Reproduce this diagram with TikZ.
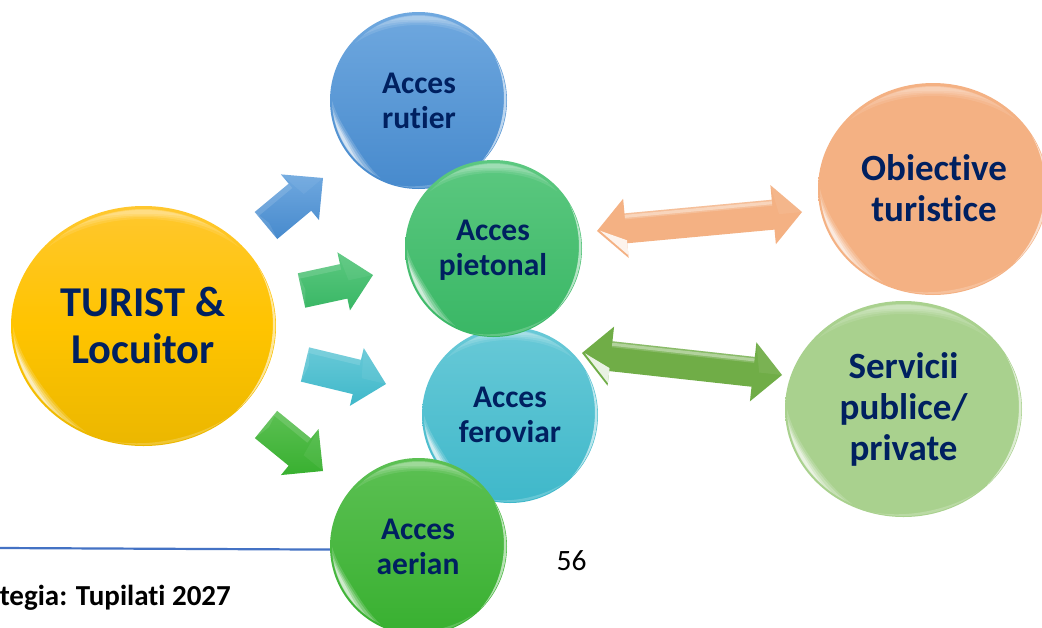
\documentclass[tikz,border=0pt]{standalone}
\usepackage{fontspec}
\setmainfont{Carlito}[Ligatures=NoCommon,RawFeature={-liga;-clig;-dlig}]
\usetikzlibrary{calc,shapes.geometric,backgrounds}
\definecolor{navy}{HTML}{002060}
\definecolor{cA}{HTML}{6FA8DF}\definecolor{cB}{HTML}{478ACD}
\definecolor{cC}{HTML}{5CC880}\definecolor{cD}{HTML}{39B765}
\definecolor{cE}{HTML}{68C9D7}\definecolor{cF}{HTML}{3FB8CA}
\definecolor{cG}{HTML}{5CC053}\definecolor{cH}{HTML}{38B030}
\definecolor{cI}{HTML}{FFC72E}\definecolor{cJ}{HTML}{EBB700}\definecolor{cK}{HTML}{FFC400}
\definecolor{peach}{HTML}{F4B183}\definecolor{leaf}{HTML}{A9D18E}
\definecolor{dleaf}{HTML}{70AD47}\definecolor{rule}{HTML}{4472C4}
\tikzset{
  bub/.style={ellipse,inner sep=0pt,outer sep=0pt,draw=none},
  lbl/.style 2 args={align=center,text=navy,font=\bfseries\fontsize{#1}{#2}\selectfont,inner sep=0pt}
}
\newcommand\cres[9]{% cx cy rx ry a1 a2 inset thick opacity
  \fill[white,opacity=#9] plot[domain=#5:#6,samples=28,smooth] ({#1+(#3-#7)*cos(\x)},{#2+(#4-#7)*sin(\x)})
   -- plot[domain=#6:#5,samples=28,smooth] ({#1+(#3-#7-#8*sin((\x-(#5))/((#6)-(#5))*180))*cos(\x)},{#2+(#4-#7-#8*sin((\x-(#5))/((#6)-(#5))*180))*sin(\x)}) -- cycle;}
\newcommand\gloss[4]{%
  \cres{#1}{#2}{#3}{#4}{222}{318}{3}{10}{.10}%
  \cres{#1}{#2}{#3}{#4}{230}{310}{3}{8}{.12}%
  \cres{#1}{#2}{#3}{#4}{240}{300}{3.5}{6}{.14}%
  \cres{#1}{#2}{#3}{#4}{250}{290}{4}{4}{.15}%
  \cres{#1}{#2}{#3}{#4}{116}{180}{2}{9}{.16}%
  \cres{#1}{#2}{#3}{#4}{120}{176}{2}{7}{.22}%
  \cres{#1}{#2}{#3}{#4}{128}{172}{2.3}{5}{.30}%
  \cres{#1}{#2}{#3}{#4}{135}{168}{2.6}{3}{.45}%
  \cres{#1}{#2}{#3}{#4}{-30}{45}{.6}{2.6}{.6}%
  \cres{#1}{#2}{#3}{#4}{50}{105}{1}{2.5}{.2}%
}
\newcommand\bubble[7]{% name cx cy rx ry top bottom
  \node[bub,minimum width=2*#4pt,minimum height=2*#5pt,top color=#6,bottom color=#7] (#1) at (#2,#3) {};
  \gloss{#2}{#3}{#4}{#5}%
}
\newcommand\blockshape[4]{%
  ($(#1)!#3pt!90:(#2)$) -- ($(h)!#3pt!90:(#2)$) -- ($(h)!#4pt!90:(#2)$) -- (#2) -- ($(h)!#4pt!-90:(#2)$) -- ($(h)!#3pt!-90:(#2)$) -- ($(#1)!#3pt!-90:(#2)$) -- cycle}
\newcommand\blockarrow[5]{% s t top bottom side
  \coordinate (h) at ($(#2)!30pt!(#1)$);
  \shade[top color=#3,bottom color=#4] \blockshape{#1}{#2}{17.6}{29.7};
  \fill[white,opacity=.13] ($(#1)!17.6pt!#5:(#2)$) -- ($(h)!17.6pt!#5:(#2)$) -- ($(h)!12pt!#5:(#2)$) -- ($(#1)!12pt!#5:(#2)$) -- cycle;
  \fill[white,opacity=.10] ($(#1)!17.6pt!90:(#2)$) -- ($(#1)!17.6pt!-90:(#2)$) -- ($(#1)!4pt!(#2)$) -- cycle;
  \fill[white,opacity=.06] ($(h)!29.7pt!#5:(#2)$) -- (#2) -- ($(h)!5pt!(#2)$) -- cycle;
}
\newcommand\doublearrow[3]{% l r colour
  \coordinate (hl) at ($(#1)!29pt!(#2)$);
  \coordinate (hr) at ($(#2)!29pt!(#1)$);
  \fill[#3] ($(hl)!15pt!90:(#2)$) -- ($(hl)!29.7pt!90:(#2)$) -- (#1) -- ($(hl)!29.7pt!-90:(#2)$) -- ($(hl)!15pt!-90:(#2)$)
     -- ($(hr)!15pt!90:(#1)$) -- ($(hr)!29.7pt!90:(#1)$) -- (#2) -- ($(hr)!29.7pt!-90:(#1)$) -- ($(hr)!15pt!-90:(#1)$) -- cycle;
  \fill[white,opacity=.18] ($(hl)!15pt!90:(#2)$) -- ($(hr)!15pt!-90:(#1)$) -- ($(hr)!9pt!-90:(#1)$) -- ($(hl)!9pt!90:(#2)$) -- cycle;
  \fill[white,opacity=.35] ($(hl)!13.5pt!90:(#2)$) -- ($(hr)!13.5pt!-90:(#1)$) -- ($(hr)!10.5pt!-90:(#1)$) -- ($(hl)!10.5pt!90:(#2)$) -- cycle;
  \fill[white,opacity=.85] ($(#1)!3pt!(#2)$) -- ($(hl)!27pt!-90:(#2)$) -- ($(hl)!12pt!-90:(#2)$) -- cycle;
  \fill[white,opacity=.07] ($(hr)!29.7pt!-90:(#1)$) -- (#2) -- ($(hr)!6pt!(#2)$) -- cycle;
}
\begin{document}
\begin{tikzpicture}[x=1pt,y=-1pt]
\useasboundingbox (0,0) rectangle (1042,627);
\clip (0,0) rectangle (1042,627);

\coordinate (a1s) at (266,225.5); \coordinate (a1t) at (323,178);
\coordinate (a2s) at (301.5,290.5); \coordinate (a2t) at (373,275);
\coordinate (a3s) at (305,364.5); \coordinate (a3t) at (386,384);
\coordinate (a4s) at (266,424.5); \coordinate (a4t) at (323,471);
\blockarrow{a1s}{a1t}{cA}{cB}{90}
\blockarrow{a2s}{a2t}{cC}{cD}{90}
\blockarrow{a3s}{a3t}{cE}{cF}{90}
\blockarrow{a4s}{a4t}{cG}{cH}{90}

\coordinate (d1l) at (597,231); \coordinate (d1r) at (802,212);
\coordinate (d2l) at (582,353); \coordinate (d2r) at (782,375);
\doublearrow{d1l}{d1r}{peach}
\doublearrow{d2l}{d2r}{dleaf}

\node[bub,minimum width=265pt,minimum height=240pt,top color=cI,bottom color=cJ,middle color=cK] (turist) at (143.5,326) {};
\gloss{143.5}{326}{132.5}{120}
\bubble{rutier}{418.5}{100.5}{88.5}{88.5}{cA}{cB}
\bubble{feroviar}{510}{415}{88}{88}{cE}{cF}
\bubble{pietonal}{493.5}{248.5}{88.5}{88.5}{cC}{cD}
\bubble{aerian}{418.5}{546.5}{88.5}{88.5}{cG}{cH}
\bubble{obiective}{933}{189}{115}{106}{peach}{peach}
\bubble{servicii}{903.5}{409}{118.5}{108}{leaf}{leaf}

\begin{scope}[on background layer]
\fill[white] (0,0) rectangle (1042,627);
\coordinate (ruleL) at (0,548);
\draw[rule,line width=2.2pt] (ruleL) -- (aerian.182);
\end{scope}

\node[lbl={42.5}{47.5}] (tTurist) at (143,325.5) {TURIST \&\\Locuitor};
\node[lbl={31.5}{35}] (tRutier) at (419,101) {Acces\\rutier};
\node[lbl={31.5}{35}] (tPietonal) at (493,250) {Acces\\pietonal};
\node[lbl={31.5}{35}] (tFeroviar) at (510,415) {Acces\\feroviar};
\node[lbl={31.5}{35}] (tAerian) at (418,547) {Acces\\aerian};
\node[lbl={37}{41}] (tObiective) at (934,188) {Obiective\\turistice};
\node[lbl={37}{41}] (tServicii) at (903.5,409.5) {Servicii\\publice/\\private};
\node[inner sep=0pt,anchor=base,font=\fontsize{29.5}{30}\selectfont] (pageno) at (571.5,570) {56};
\node[inner sep=0pt,anchor=base east,font=\bfseries\fontsize{29}{30}\selectfont] (foot) at (231,605) {tegia: Tupilati 2027};
\end{tikzpicture}
\end{document}
